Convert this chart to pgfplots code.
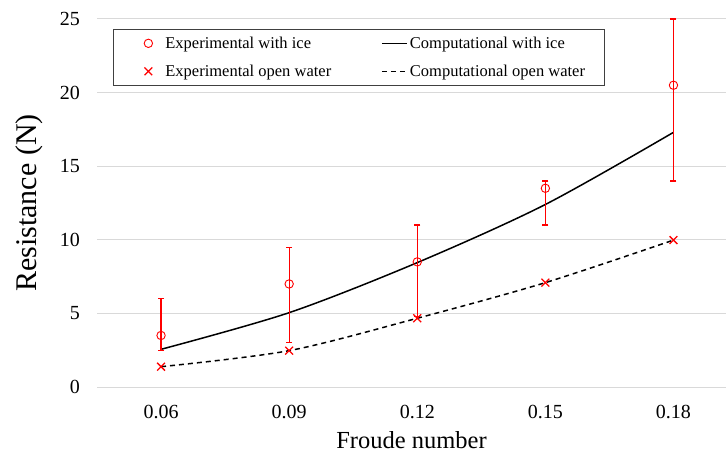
\documentclass[border=0pt]{standalone}
\usepackage{fontspec}
\setmainfont{Liberation Serif}
\usepackage{pgfplots}
\pgfplotsset{compat=1.18}

\definecolor{gridgray}{HTML}{D9D9D9}
\definecolor{boxgray}{HTML}{404040}
\definecolor{errred}{HTML}{FF0000}

\pgfplotsset{
    markleg/.style={legend image code/.code={\path[draw=none,fill=none] (0bp,-14bp) rectangle (33bp,14bp);
        \draw[##1] plot coordinates {(16bp,0bp)};}},
    lineleg/.style={legend image code/.code={\path[draw=none,fill=none] (0bp,-14bp) rectangle (28bp,14bp);
        \draw[##1] (0bp,0bp) -- (25bp,0bp);}},
}

\begin{document}
\begin{tikzpicture}
\path[use as bounding box] (0,0) rectangle (726bp,458bp);
\begin{axis}[
    at={(97bp,71bp)}, anchor=south west,
    scale only axis, width=629bp, height=368bp,
    xmin=-0.5, xmax=4.41, ymin=0, ymax=25,
    xtick={0,1,2,3,4},
    xticklabels={0.06,0.09,0.12,0.15,0.18},
    ytick={0,5,10,15,20,25},
    axis line style={draw=none},
    major tick length=0pt,
    ymajorgrids,
    grid style={draw=gridgray, line width=1bp},
    /pgf/number format/assume math mode=true,
    ticklabel style={font=\fontsize{20bp}{24bp}\selectfont},
    yticklabel style={inner sep=0pt, xshift=-17bp},
    xticklabel style={inner sep=0pt, anchor=center, yshift=-25bp},
    xlabel={Froude number},
    xlabel style={at={(axis description cs:0.5,-0.145)}, anchor=center,
        font=\fontsize{24.5bp}{29bp}\selectfont},
    ylabel={Resistance (N)},
    ylabel style={at={(axis description cs:-0.107,0.5)}, anchor=center,
        font=\fontsize{30bp}{36bp}\selectfont},
    clip=false,
    legend columns=2,
    legend cell align=left,
    legend style={at={(0.0254,0.973)}, anchor=north west,
        draw=boxgray, line width=0.8bp,
        inner xsep=19bp, inner ysep=0pt,
        font=\fontsize{16.5bp}{20bp}\selectfont,
        nodes={inner sep=0pt},
        /tikz/every even column/.append style={column sep=50bp}},
]
% Experimental with ice
\addplot[only marks, color=errred, mark=o, mark size=4.2bp,
    mark options={line width=0.9bp}, markleg]
coordinates {(0,3.5) (1,7.0) (2,8.5) (3,13.5) (4,20.5)};
\addlegendentry{Experimental with ice}
% Computational with ice
\addplot[black, line width=1.5bp, smooth, mark=none, lineleg]
coordinates {(0,2.56) (1,5.05) (2,8.45) (3,12.4) (4,17.3)};
\addlegendentry{Computational with ice}
% Experimental open water
\addplot[only marks, color=errred, mark=x, mark size=5.5bp, mark options={line width=1.3bp}, markleg]
coordinates {(0,1.38) (1,2.47) (2,4.67) (3,7.09) (4,9.98)};
\addlegendentry{Experimental open water}
% Computational open water
\addplot[black, line width=1.5bp, smooth, mark=none, dash pattern=on 5bp off 4bp, lineleg]
coordinates {(0,1.38) (1,2.47) (2,4.67) (3,7.09) (4,9.98)};
\addlegendentry{Computational open water}
% error bars of the ice experiments (lower end, upper end), one path
\addplot[forget plot, color=errred, draw=errred, solid, line width=1.2bp, mark=none,
    unbounded coords=jump]
coordinates {(0,2.5) (0,6.0) (0,nan) (1,3.0) (1,9.5) (1,nan) (2,4.8) (2,11.0) (2,nan)
    (3,11.0) (3,14.0) (3,nan) (4,14.0) (4,25.0)};
% caps of the error bars
\addplot[forget plot, only marks, color=errred, mark=-, mark size=3bp,
    mark options={line width=1.2bp}]
coordinates {(0,2.5) (0,6.0) (1,3.0) (1,9.5) (2,4.8) (2,11.0)
    (3,11.0) (3,14.0) (4,14.0) (4,25.0)};
\end{axis}
\end{tikzpicture}
\end{document}
